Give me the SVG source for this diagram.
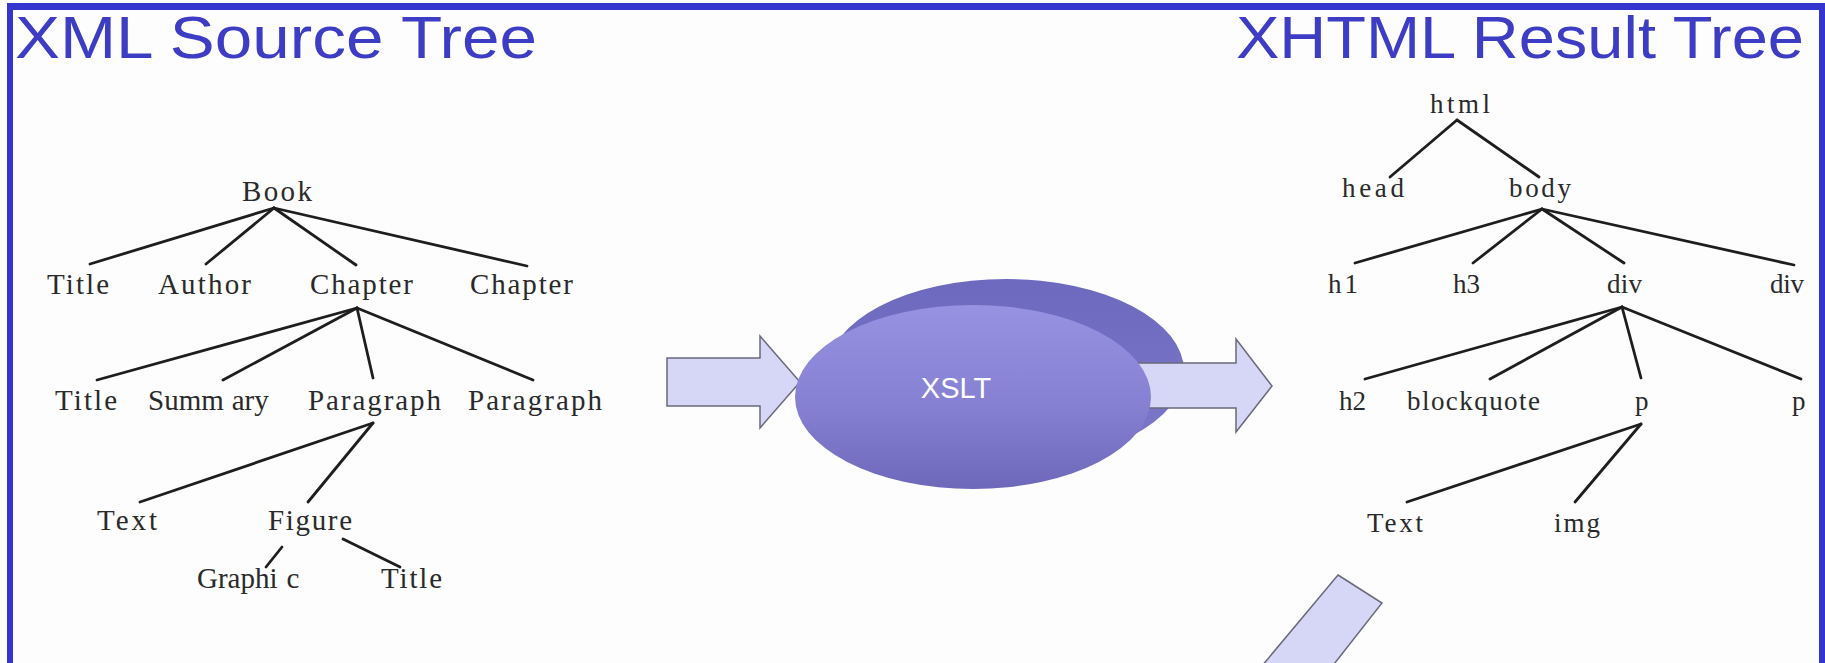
<svg xmlns="http://www.w3.org/2000/svg" width="1825" height="663" viewBox="0 0 1825 663">
  <defs>
    <style>
      .title { font-family: "Liberation Sans", Arial, sans-serif; font-size: 60px; fill: #3c3cc4; }
      .lt { font-family: "Liberation Serif", "Times New Roman", serif; font-size: 29px; fill: #2a2a2a; }
      .rt { font-family: "Liberation Serif", "Times New Roman", serif; font-size: 27px; fill: #2a2a2a; }
      .edge { stroke: #1e1e1e; stroke-width: 2.8; fill: none; stroke-linecap: round; }
      .arrow { fill: #d6d6f7; stroke: #6a6a7a; stroke-width: 1.5; }
      .xslt { font-family: "Liberation Sans", Arial, sans-serif; font-size: 29px; fill: #ffffff; text-anchor: middle; }
      .frame { fill: #3434cf; }
    </style>
    <linearGradient id="frontGrad" x1="0" y1="0" x2="0" y2="1">
      <stop offset="0" stop-color="#9793e2"/>
      <stop offset="0.55" stop-color="#8580d2"/>
      <stop offset="1" stop-color="#6d68b9"/>
    </linearGradient>
    <linearGradient id="backGrad" x1="0" y1="0" x2="0" y2="1">
      <stop offset="0" stop-color="#6d69be"/>
      <stop offset="1" stop-color="#7c78cb"/>
    </linearGradient>
  </defs>

  <rect x="0" y="0" width="1825" height="663" fill="#ffffff"/>
  <rect x="13" y="10" width="1806" height="653" fill="#fdfdfd"/>

  <g id="frame">
    <rect class="frame" x="7" y="3" width="1818" height="7"/>
    <rect class="frame" x="7" y="3" width="6" height="660"/>
    <rect class="frame" x="1819" y="3" width="6" height="660"/>
  </g>

  <g id="titles">
    <text id="title-xml" class="title" x="15" y="58" textLength="522" lengthAdjust="spacingAndGlyphs">XML Source Tree</text>
    <text id="title-xhtml" class="title" x="1236" y="58" textLength="568" lengthAdjust="spacingAndGlyphs">XHTML Result Tree</text>
  </g>

  <g id="connectors">
    <!-- XML tree -->
    <line class="edge" x1="274" y1="208" x2="90" y2="264"/>
    <line class="edge" x1="274" y1="208" x2="206" y2="264"/>
    <line class="edge" x1="274" y1="208" x2="356" y2="265"/>
    <line class="edge" x1="274" y1="208" x2="527" y2="266"/>
    <line class="edge" x1="357" y1="308" x2="97" y2="380"/>
    <line class="edge" x1="357" y1="308" x2="223" y2="380"/>
    <line class="edge" x1="357" y1="308" x2="373" y2="378"/>
    <line class="edge" x1="357" y1="308" x2="533" y2="380"/>
    <line class="edge" x1="373" y1="423" x2="140" y2="502"/>
    <line class="edge" x1="373" y1="423" x2="308" y2="502"/>
    <line class="edge" x1="282" y1="547" x2="266" y2="567"/>
    <line class="edge" x1="343" y1="539" x2="400" y2="567"/>
    <!-- XHTML tree -->
    <line class="edge" x1="1457" y1="120" x2="1390" y2="177"/>
    <line class="edge" x1="1457" y1="120" x2="1539" y2="177"/>
    <line class="edge" x1="1542" y1="209" x2="1355" y2="263"/>
    <line class="edge" x1="1542" y1="209" x2="1473" y2="263"/>
    <line class="edge" x1="1542" y1="209" x2="1624" y2="263"/>
    <line class="edge" x1="1542" y1="209" x2="1794" y2="265"/>
    <line class="edge" x1="1622" y1="307" x2="1365" y2="379"/>
    <line class="edge" x1="1622" y1="307" x2="1490" y2="379"/>
    <line class="edge" x1="1622" y1="307" x2="1641" y2="378"/>
    <line class="edge" x1="1622" y1="307" x2="1801" y2="379"/>
    <line class="edge" x1="1641" y1="424" x2="1407" y2="502"/>
    <line class="edge" x1="1641" y1="424" x2="1575" y2="502"/>
  </g>

  <!-- XML source tree nodes -->
  <g id="xml-book"><text class="lt" x="242" y="201" textLength="70" lengthAdjust="spacing">Book</text></g>
  <g id="xml-title"><text class="lt" x="47" y="294" textLength="62" lengthAdjust="spacing">Title</text></g>
  <g id="xml-author"><text class="lt" x="158" y="294" textLength="93" lengthAdjust="spacing">Author</text></g>
  <g id="xml-chapter1"><text class="lt" x="310" y="294" textLength="103" lengthAdjust="spacing">Chapter</text></g>
  <g id="xml-chapter2"><text class="lt" x="470" y="294" textLength="103" lengthAdjust="spacing">Chapter</text></g>
  <g id="xml-chapter-title"><text class="lt" x="55" y="410" textLength="62" lengthAdjust="spacing">Title</text></g>
  <g id="xml-summary"><text class="lt" x="148" y="410">Summ<tspan dx="8">ary</tspan></text></g>
  <g id="xml-paragraph1"><text class="lt" x="308" y="410" textLength="133" lengthAdjust="spacing">Paragraph</text></g>
  <g id="xml-paragraph2"><text class="lt" x="468" y="410" textLength="134" lengthAdjust="spacing">Paragraph</text></g>
  <g id="xml-text"><text class="lt" x="97" y="530" textLength="60" lengthAdjust="spacing">Text</text></g>
  <g id="xml-figure"><text class="lt" x="268" y="530" textLength="84" lengthAdjust="spacing">Figure</text></g>
  <g id="xml-graphic"><text class="lt" x="197" y="588">Graphi<tspan dx="9">c</tspan></text></g>
  <g id="xml-figure-title"><text class="lt" x="381" y="588" textLength="61" lengthAdjust="spacing">Title</text></g>

  <!-- XSLT processor -->
  <g id="arrow-in">
    <polygon class="arrow" points="667,358 760,358 760,336 800,382 760,428 760,406 667,406"/>
  </g>
  <g id="xslt">
    <ellipse cx="1006" cy="371" rx="178" ry="92" fill="url(#backGrad)"/>
    <polygon id="arrow-out" class="arrow" points="1130,363 1236,363 1236,339 1272,386 1236,432 1236,408 1130,408"/>
    <ellipse cx="973" cy="397" rx="178" ry="92" fill="url(#frontGrad)"/>
    <text class="xslt" x="956" y="398">XSLT</text>
  </g>

  <!-- XHTML result tree nodes -->
  <g id="html-html"><text class="rt" x="1430" y="113" textLength="60" lengthAdjust="spacing">html</text></g>
  <g id="html-head"><text class="rt" x="1342" y="197" textLength="62" lengthAdjust="spacing">head</text></g>
  <g id="html-body"><text class="rt" x="1509" y="197" textLength="62" lengthAdjust="spacing">body</text></g>
  <g id="html-h1"><text class="rt" x="1328" y="293" textLength="30" lengthAdjust="spacing">h1</text></g>
  <g id="html-h3"><text class="rt" x="1453" y="293">h3</text></g>
  <g id="html-div1"><text class="rt" x="1607" y="293" textLength="35" lengthAdjust="spacing">div</text></g>
  <g id="html-div2"><text class="rt" x="1770" y="293" textLength="34" lengthAdjust="spacing">div</text></g>
  <g id="html-h2"><text class="rt" x="1339" y="410">h2</text></g>
  <g id="html-blockquote"><text class="rt" x="1407" y="410" textLength="133" lengthAdjust="spacing">blockquote</text></g>
  <g id="html-p1"><text class="rt" x="1635" y="410">p</text></g>
  <g id="html-p2"><text class="rt" x="1792" y="410">p</text></g>
  <g id="html-text"><text class="rt" x="1367" y="532" textLength="56" lengthAdjust="spacing">Text</text></g>
  <g id="html-img"><text class="rt" x="1554" y="532" textLength="46" lengthAdjust="spacing">img</text></g>

  <!-- partial slanted arrow at bottom -->
  <g id="arrow-bottom">
    <polygon class="arrow" points="1338,575 1382,603 1327,673 1256,673"/>
  </g>
</svg>
